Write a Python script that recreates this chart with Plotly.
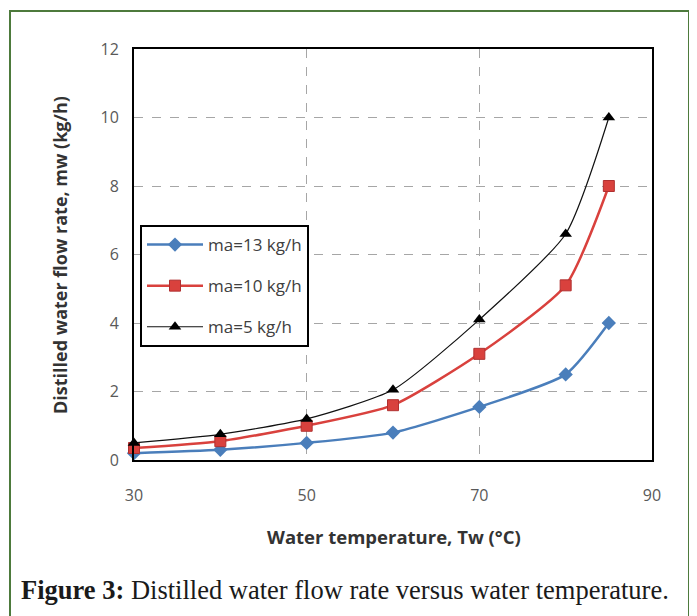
import plotly.graph_objects as go

temps = [30, 40, 50, 60, 70, 80, 85]
ma13 = [0.2, 0.3, 0.5, 0.8, 1.55, 2.5, 4.0]
ma10 = [0.35, 0.55, 1.0, 1.6, 3.1, 5.1, 8.0]
ma5 = [0.5, 0.75, 1.2, 2.05, 4.1, 6.6, 10.0]
series_names = ["ma=13 kg/h", "ma=10 kg/h", "ma=5 kg/h"]
x_ticks = [30, 50, 70, 90]
y_ticks = [0, 2, 4, 6, 8, 10, 12]

# page coordinates -> paper coordinates (plot area spans x 134..652, y 49..460 on the page)
def px(x):
    return (x - 134) / 518

def py(y):
    return (460 - y) / 411

fig = go.Figure()
fig.add_trace(go.Scatter(x=temps, y=ma13, name=series_names[0], mode="lines+markers",
                         line=dict(color="#4a7ebb", width=2.5, shape="spline", smoothing=0.6),
                         marker=dict(symbol="diamond", size=11, color="#4a7ebb"),
                         legendgroup="a", cliponaxis=False))
fig.add_trace(go.Scatter(x=temps, y=ma10, name=series_names[1], mode="lines+markers",
                         line=dict(color="#d9413d", width=2.5, shape="spline", smoothing=0.6),
                         marker=dict(symbol="square", size=11, color="#d9413d",
                                     line=dict(color="#b03030", width=1)),
                         legendgroup="b", cliponaxis=False))
fig.add_trace(go.Scatter(x=temps, y=ma5, name=series_names[2], mode="lines+markers",
                         line=dict(color="#111111", width=1.2, shape="spline", smoothing=0.6),
                         marker=dict(symbol="triangle-up", size=11, color="#000000"),
                         legendgroup="c", cliponaxis=False))

tickfont = dict(family="Open Sans", size=16, color="#595959")
fig.update_xaxes(range=[30, 90], tickvals=x_ticks, showgrid=True, gridcolor="#a6a6a6",
                 griddash="dash", gridwidth=1, showline=True, linecolor="black", linewidth=2,
                 mirror=True, ticks="", tickfont=tickfont, ticklabelstandoff=20, zeroline=False)
fig.update_yaxes(range=[0, 12], tickvals=y_ticks, showgrid=True, gridcolor="#a6a6a6",
                 griddash="dash", gridwidth=1, showline=True, linecolor="black", linewidth=2,
                 mirror=True, ticks="", tickfont=tickfont, ticklabelstandoff=10, zeroline=False)

fig.update_layout(
    width=697, height=616,
    margin=dict(l=126, r=53, t=41, b=164),
    plot_bgcolor="white", paper_bgcolor="white",
    showlegend=True,
    legend=dict(x=px(140), y=py(225), xanchor="left", yanchor="top",
                bgcolor="white", bordercolor="black", borderwidth=2,
                font=dict(family="Open Sans", size=17, color="#404040"),
                tracegroupgap=16, itemwidth=56),
    annotations=[
        dict(text="<b>Water temperature, Tw (°C)</b>", xref="paper", yref="paper",
             x=px(394), y=py(536), xanchor="center", yanchor="middle", showarrow=False,
             font=dict(family="Open Sans", size=18.5, color="#333333")),
        dict(text="<b>Distilled water flow rate, mw (kg/h)</b>", xref="paper", yref="paper",
             x=px(60), y=py(255), xanchor="center", yanchor="middle",
             textangle=-90, showarrow=False,
             font=dict(family="Open Sans", size=18, color="#333333")),
        dict(text="<b>Figure 3:</b> Distilled water flow rate versus water temperature.",
             xref="paper", yref="paper", x=px(19), y=py(590),
             xanchor="left", yanchor="middle", showarrow=False,
             font=dict(family="Liberation Serif", size=26.5, color="#1a1a1a")),
    ],
    shapes=[
        dict(type="rect", xref="paper", yref="paper",
             x0=px(10), x1=px(689), y0=py(640), y1=py(11),
             line=dict(color="#4d7a3c", width=2), fillcolor="rgba(0,0,0,0)", layer="below"),
    ],
)

fig.write_html("out.html")
